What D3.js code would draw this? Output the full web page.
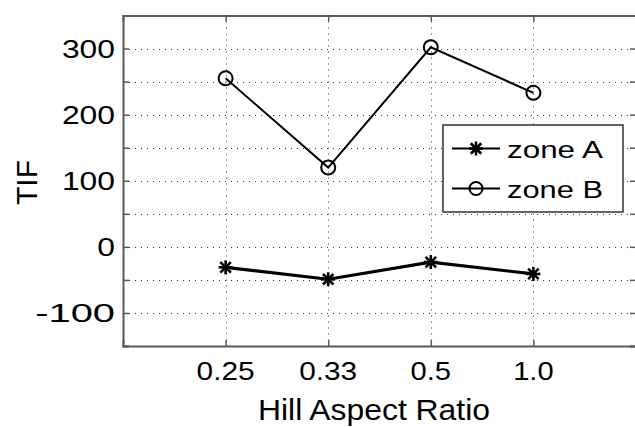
<!DOCTYPE html>
<html><head><meta charset="utf-8">
<script src="https://cdn.jsdelivr.net/npm/d3@7"></script>
<style>body{margin:0;background:#fff}svg{display:block}text{font-family:"Liberation Sans",Arial,sans-serif;fill:#000}</style>
</head><body>
<svg id="c" width="635" height="427"></svg>
<script>
const categories = ["0.25", "0.33", "0.5", "1.0"];
const zoneA = [-31, -49, -23, -41];
const zoneB = [255, 120, 302, 233];
const yTicks = [-150, -100, -50, 0, 50, 100, 150, 200, 250, 300, 350];
const yLabels = [300, 200, 100, 0, -100];
const seriesNames = ["zone A", "zone B"];

const svg = d3.select("#c");
const L = 123, R = 636, T = 15.5, B = 346;
const x = d3.scaleLinear().domain([0, 5]).range([L, R]);
const y = d3.scaleLinear().domain([-150, 350]).range([B, T]);
const xi = categories.map((c, i) => i + 1);

// grid
const g = svg.append("g");
g.selectAll("line.hg").data(yTicks.filter(v => v > -150 && v < 350)).join("line")
  .attr("x1", L).attr("x2", R).attr("y1", d => Math.round(y(d)) + 0.5).attr("y2", d => Math.round(y(d)) + 0.5)
  .attr("stroke", "#333").attr("stroke-width", 1).attr("stroke-dasharray", "1,5");
g.selectAll("line.vg").data(xi).join("line")
  .attr("y1", T).attr("y2", B).attr("x1", d => Math.round(x(d)) + 0.5).attr("x2", d => Math.round(x(d)) + 0.5)
  .attr("stroke", "#333").attr("stroke-width", 1).attr("stroke-dasharray", "1,5");

// axes via d3 axis
const yAxisL = d3.axisLeft(y).tickValues(yTicks).tickSize(-6).tickFormat("");
const yAxisR = d3.axisRight(y).tickValues(yTicks).tickSize(-6).tickFormat("");
const xAxisB = d3.axisBottom(x).tickValues(xi).tickSize(-6).tickFormat("");
const xAxisT = d3.axisTop(x).tickValues(xi).tickSize(-6).tickFormat("");
[[yAxisL, `translate(${L},0)`], [yAxisR, `translate(${R},0)`], [xAxisB, `translate(0,${B})`], [xAxisT, `translate(0,${T})`]].forEach(([ax, tr]) => {
  const a = svg.append("g").attr("transform", tr).call(ax);
  a.select(".domain").attr("stroke", "#5a5a5a").attr("stroke-width", 2);
  a.selectAll(".tick line").attr("stroke", "#5a5a5a").attr("stroke-width", 1.5);
});

// y labels
svg.append("g").selectAll("text").data(yLabels).join("text")
  .attr("x", 115).attr("y", d => y(d) + 9.5).attr("text-anchor", "end")
  .attr("font-size", 26)
  .attr("textLength", d => String(d).length * 17.7 + (d < 0 ? 9 : 0)).attr("lengthAdjust", "spacingAndGlyphs")
  .text(d => d);

// x labels
svg.append("g").selectAll("text").data(categories).join("text")
  .attr("x", (d, i) => x(i + 1)).attr("y", 380).attr("text-anchor", "middle")
  .attr("font-size", 26)
  .attr("textLength", d => d.length === 4 ? 58 : 40.5).attr("lengthAdjust", "spacingAndGlyphs")
  .text(d => d);

svg.append("text").attr("x", 374).attr("y", 420).attr("text-anchor", "middle")
  .attr("font-size", 30).attr("textLength", 232).attr("lengthAdjust", "spacingAndGlyphs")
  .text("Hill Aspect Ratio");
svg.append("text").attr("transform", "translate(37,182.5) rotate(-90)").attr("text-anchor", "middle")
  .attr("font-size", 30).attr("textLength", 45).attr("lengthAdjust", "spacingAndGlyphs")
  .text("TIF");

// lines
const line = d3.line().x((d, i) => x(i + 1)).y(d => y(d));
svg.append("path").datum(zoneB).attr("d", line).attr("fill", "none").attr("stroke", "#000").attr("stroke-width", 2);
svg.append("path").datum(zoneA).attr("d", line).attr("fill", "none").attr("stroke", "#000").attr("stroke-width", 3.2);

function star(sel, cx, cy, r) {
  const gg = sel.append("g").attr("transform", `translate(${cx},${cy})`);
  [[0, -r, 0, r], [-r, 0, r, 0], [-r * .75, -r * .75, r * .75, r * .75], [-r * .75, r * .75, r * .75, -r * .75]].forEach(c =>
    gg.append("line").attr("x1", c[0]).attr("y1", c[1]).attr("x2", c[2]).attr("y2", c[3]).attr("stroke", "#000").attr("stroke-width", 2.6));
}
zoneA.forEach((v, i) => star(svg, x(i + 1), y(v), 7));
svg.append("g").selectAll("circle").data(zoneB).join("circle")
  .attr("cx", (d, i) => x(i + 1)).attr("cy", d => y(d)).attr("r", 7)
  .attr("fill", "none").attr("stroke", "#000").attr("stroke-width", 2);

// legend
const lg = svg.append("g");
lg.append("rect").attr("x", 443).attr("y", 125).attr("width", 180).attr("height", 87)
  .attr("fill", "#fff").attr("stroke", "#333").attr("stroke-width", 1.5);
const rows = [148.5, 188.5];
seriesNames.forEach((n, i) => {
  lg.append("line").attr("x1", 452).attr("x2", 500).attr("y1", rows[i]).attr("y2", rows[i])
    .attr("stroke", "#000").attr("stroke-width", 2);
  if (i === 0) star(lg, 476, rows[i], 7);
  else lg.append("circle").attr("cx", 476).attr("cy", rows[i]).attr("r", 6.5).attr("fill", "none").attr("stroke", "#000").attr("stroke-width", 2);
  lg.append("text").attr("x", 507).attr("y", rows[i] + 9.5).attr("font-size", 23)
    .attr("textLength", 96).attr("lengthAdjust", "spacingAndGlyphs").text(n);
});
</script>
</body></html>
